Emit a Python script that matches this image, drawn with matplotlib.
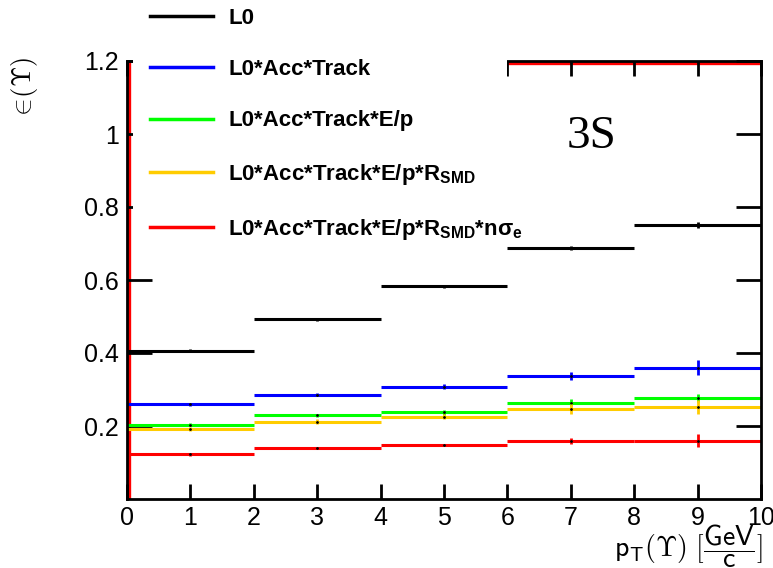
import numpy as np
import matplotlib
matplotlib.use("Agg")
import matplotlib.pyplot as plt
from matplotlib.lines import Line2D
from matplotlib.patches import Rectangle

plt.rcParams['font.family'] = ['Liberation Sans', 'DejaVu Sans']
plt.rcParams['mathtext.fontset'] = 'custom'
plt.rcParams['mathtext.rm'] = 'Liberation Sans'
plt.rcParams['mathtext.it'] = 'Liberation Sans:italic'
plt.rcParams['mathtext.bf'] = 'Liberation Sans:bold'

# pT bins [GeV/c]
bin_edges = np.array([0, 2, 4, 6, 8, 10])

# efficiencies per bin
eff_l0 = [0.406, 0.492, 0.583, 0.687, 0.751]
err_l0 = [0.004, 0.003, 0.004, 0.006, 0.008]
eff_track = [0.259, 0.286, 0.308, 0.337, 0.360]
err_track = [0.004, 0.004, 0.007, 0.012, 0.021]
eff_ep = [0.204, 0.229, 0.2375, 0.264, 0.278]
err_ep = [0.004, 0.005, 0.006, 0.009, 0.011]
eff_smd = [0.191, 0.212, 0.2256, 0.2466, 0.252]
err_smd = [0.005, 0.006, 0.007, 0.013, 0.019]
eff_nsig = [0.122, 0.139, 0.148, 0.160, 0.160]
err_nsig = [0.003, 0.003, 0.004, 0.008, 0.017]

labels = [r"L0",
          r"L0*Acc*Track",
          r"L0*Acc*Track*E/p",
          r"L0*Acc*Track*E/p*R$_{\mathbf{SMD}}$",
          r"L0*Acc*Track*E/p*R$_{\mathbf{SMD}}$*nσ$_{\mathbf{e}}$"]
colors = ['black', '#0000ff', '#00ff00', '#ffcc00', '#ff0000']
series = [(eff_l0, err_l0), (eff_track, err_track), (eff_ep, err_ep),
          (eff_smd, err_smd), (eff_nsig, err_nsig)]

fig = plt.figure(figsize=(7.73, 5.68), dpi=100)
ax = fig.add_axes([127/773, 1-499/568, 634/773, 438/568])

centers = 0.5*(bin_edges[:-1] + bin_edges[1:])
for (vals, errs), c in zip(series, colors):
    ax.hlines(vals, bin_edges[:-1], bin_edges[1:], color=c, lw=2.2)
    ax.errorbar(centers, vals, yerr=errs, fmt='none', ecolor=c, elinewidth=2)
    ax.plot(centers, vals, 'k.', ms=2)

# red histogram frame remnants
ax.axvline(0, color='#ff0000', lw=6, zorder=1)
ax.axhline(1.2, xmin=0.6, xmax=1.0, color='#ff0000', lw=6, zorder=1)

ax.set_xlim(0, 10)
ax.set_ylim(0, 1.2)
ax.set_xticks(range(0, 11))
ax.set_yticks([0.2, 0.4, 0.6, 0.8, 1.0, 1.2])
ax.set_yticklabels(['0.2', '0.4', '0.6', '0.8', '1', '1.2'])
ax.tick_params(direction='in', top=True, right=True, labelsize=18, width=2, pad=5)
ax.tick_params(axis='x', length=11)
ax.tick_params(axis='y', length=18, pad=6)
for s in ax.spines.values():
    s.set_linewidth(2)

ax.text(0.733, 0.826, "3S", transform=ax.transAxes, fontsize=34,
        family='Liberation Serif', ha='center', va='center')

fig.text(24/773, 1-88/568, r"$\in\!(\Upsilon)$", rotation=90, fontsize=19,
         math_fontfamily='cm', ha='center', va='center')
fig.text(763/773, 1-546/568,
         r"$\mathsf{p}_{\mathsf{T}}(\Upsilon)\ [\dfrac{\mathsf{GeV}}{\mathsf{c}}]$",
         fontsize=20, math_fontfamily='cm', ha='right', va='center')

# legend box covering the top-left of the frame
fig.add_artist(Rectangle((133/773, 1-255/568), (507-133)/773, 255/568,
                         transform=fig.transFigure, facecolor='white',
                         edgecolor='none', zorder=2))
handles = [Line2D([], [], color=c, lw=2.5) for c in colors]
fig.legend(handles, labels, loc='upper left', bbox_to_anchor=(130/773, 1+12/568),
           frameon=False, prop={'weight': 'bold', 'size': 16},
           handlelength=2.84, handletextpad=0.68, labelspacing=1.36)

fig.savefig("out.png", dpi=100)
